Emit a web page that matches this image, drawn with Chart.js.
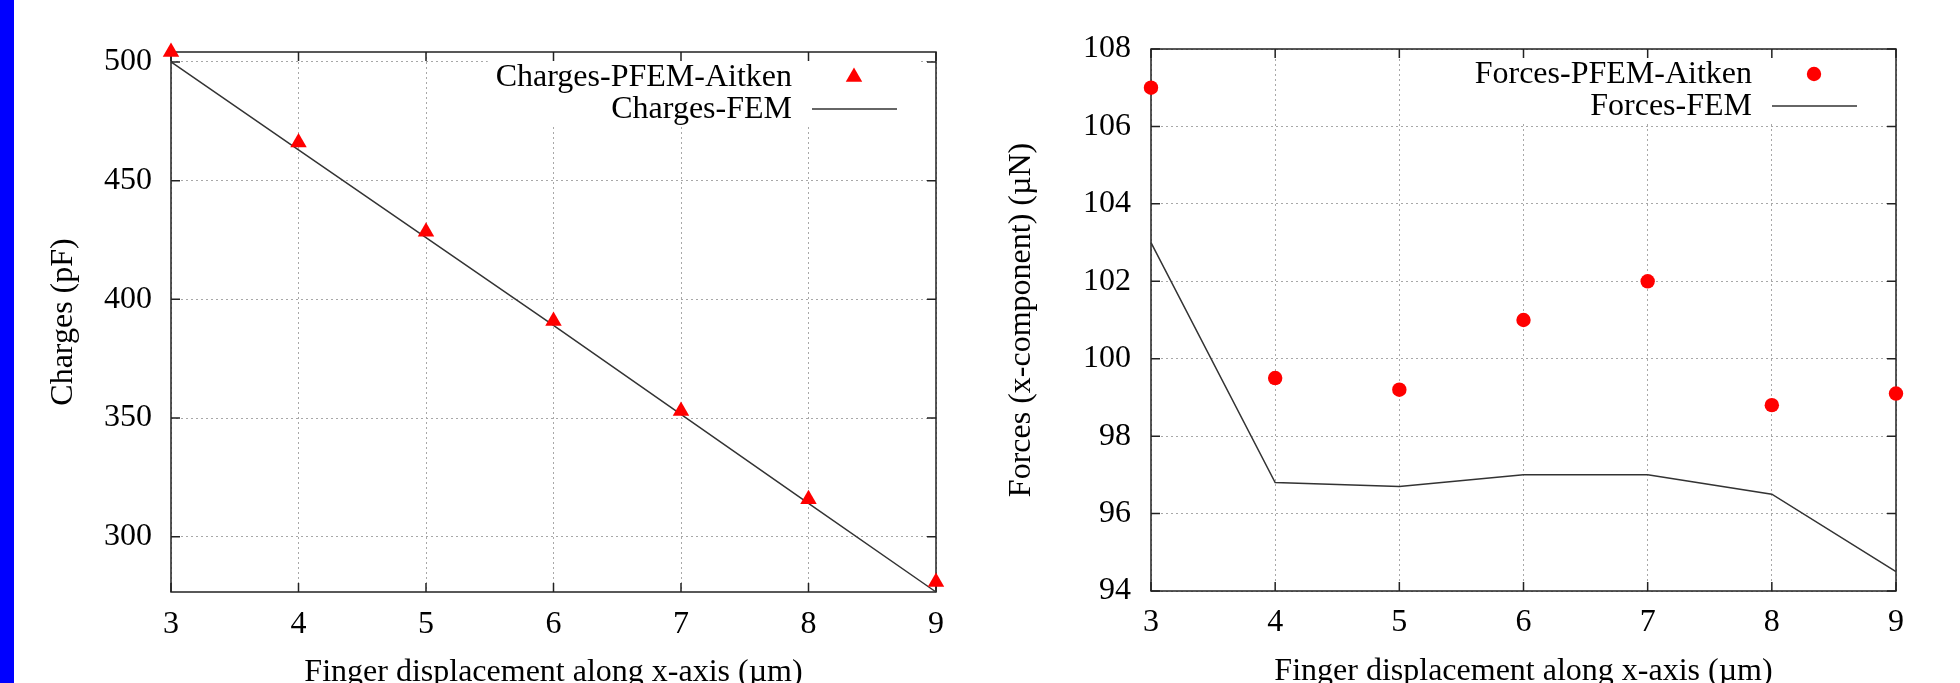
<!DOCTYPE html>
<html>
<head>
<meta charset="utf-8">
<script src="https://cdn.jsdelivr.net/npm/chart.js@4.4.0/dist/chart.umd.min.js"></script>
<style>
html, body { margin: 0; padding: 0; background: #fff; overflow: hidden; width: 1960px; height: 683px; }
#bar { position: absolute; left: 0; top: 0; width: 14px; height: 683px; background: #0000ff; }
#c1 { position: absolute; left: 14px; top: 0; }
#c2 { position: absolute; left: 980px; top: 0; }
</style>
</head>
<body>
<div id="bar"></div>
<canvas id="c1" width="966" height="700"></canvas>
<canvas id="c2" width="980" height="700"></canvas>
<script>
// values
const xValues = [3, 4, 5, 6, 7, 8, 9];
const chargesPfem = [504.2, 466.1, 428.5, 390.9, 353.0, 315.8, 280.9];
const chargesFem = [500.0, 463.0, 426.0, 389.0, 351.5, 314.0, 276.7];
const forcesPfem = [107.0, 99.5, 99.2, 101.0, 102.0, 98.8, 99.1];
const forcesFem = [103.0, 96.8, 96.7, 97.0, 97.0, 96.5, 94.5];

const xTicks = [3, 4, 5, 6, 7, 8, 9];
const chargesTicks = [300, 350, 400, 450, 500];
const forcesTicks = [94, 96, 98, 100, 102, 104, 106, 108];

const xTitle = 'Finger displacement along x-axis (\u00b5m)';
const FONT = '"Liberation Serif", "Times New Roman", serif';
const FSIZE = 32;

function pts(ys) {
    return xValues.map((x, i) => ({x: x, y: ys[i]}));
}

// gnuplot-like box, inward ticks and legend
const gnuFrame = {
    id: 'gnuFrame',
    beforeDatasetsDraw(chart) {
        const ctx = chart.ctx;
        const a = chart.chartArea;
        const x = chart.scales.x, y = chart.scales.y;
        ctx.save();
        ctx.font = FSIZE + 'px ' + FONT;
        let w = 0;
        chart.data.datasets.forEach(d => { w = Math.max(w, ctx.measureText(d.label).width); });
        const left = a.right - 144 - w - 8;
        ctx.fillStyle = '#fff';
        ctx.fillRect(left, a.top + 1, a.right - 17 - left, 72);

        ctx.strokeStyle = '#222';
        ctx.lineWidth = 1.5;
        ctx.strokeRect(a.left, a.top, a.right - a.left, a.bottom - a.top);
        ctx.beginPath();
        x.ticks.forEach(t => {
            const p = x.getPixelForValue(t.value);
            ctx.moveTo(p, a.bottom); ctx.lineTo(p, a.bottom - 9);
            ctx.moveTo(p, a.top); ctx.lineTo(p, a.top + 9);
        });
        y.ticks.forEach(t => {
            const p = y.getPixelForValue(t.value);
            ctx.moveTo(a.left, p); ctx.lineTo(a.left + 9, p);
            ctx.moveTo(a.right, p); ctx.lineTo(a.right - 9, p);
        });
        ctx.stroke();
        ctx.restore();
    },
    afterDatasetsDraw(chart) {
        const ctx = chart.ctx;
        const a = chart.chartArea;
        ctx.save();
        ctx.font = FSIZE + 'px ' + FONT;
        ctx.textAlign = 'right';
        ctx.textBaseline = 'middle';
        chart.data.datasets.forEach((d, i) => {
            const yy = a.top + 25 + i * 32;
            ctx.fillStyle = '#000';
            ctx.fillText(d.label, a.right - 144, yy + 1);
            if (d.showLine === false) {
                const cx = a.right - 82;
                ctx.fillStyle = d.backgroundColor;
                ctx.beginPath();
                if (d.pointStyle === 'triangle') {
                    const r = d.pointRadius;
                    ctx.moveTo(cx, yy - r);
                    ctx.lineTo(cx + r * 0.866, yy + r * 0.5);
                    ctx.lineTo(cx - r * 0.866, yy + r * 0.5);
                    ctx.closePath();
                } else {
                    ctx.arc(cx, yy, d.pointRadius, 0, Math.PI * 2);
                }
                ctx.fill();
            } else {
                ctx.strokeStyle = d.borderColor;
                ctx.lineWidth = d.borderWidth;
                ctx.beginPath();
                ctx.moveTo(a.right - 124, yy);
                ctx.lineTo(a.right - 39, yy);
                ctx.stroke();
            }
        });
        ctx.restore();
    }
};

function makeChart(id, cfg) {
    const font = {family: FONT, size: FSIZE};
    return new Chart(document.getElementById(id), {
        type: 'line',
        data: {
            datasets: [{
                label: cfg.labels[0],
                data: pts(cfg.pfem),
                showLine: false,
                pointStyle: cfg.pointStyle,
                pointRadius: cfg.pointRadius,
                pointHoverRadius: cfg.pointRadius,
                pointBorderWidth: 0,
                backgroundColor: '#ff0000',
                borderColor: '#ff0000',
                clip: false
            }, {
                label: cfg.labels[1],
                data: pts(cfg.fem),
                borderColor: '#333333',
                borderWidth: 1.5,
                pointRadius: 0,
                tension: 0,
                fill: false,
                clip: false
            }]
        },
        options: {
            responsive: false,
            animation: false,
            layout: {padding: cfg.padding},
            plugins: {legend: {display: false}, tooltip: {enabled: false}},
            scales: {
                x: {
                    type: 'linear',
                    min: 3,
                    max: 9,
                    afterBuildTicks: s => { s.ticks = xTicks.map(v => ({value: v})); },
                    afterFit: s => {
                        s.height = cfg.xHeight;
                        s.paddingLeft = 0; s.paddingRight = 0;
                    },
                    grid: {color: '#a8a8a8', lineWidth: 1, drawTicks: false},
                    border: {display: false, dash: [2, 3]},
                    ticks: {color: '#000', font: font, padding: cfg.xTickPad, maxRotation: 0},
                    title: {display: true, text: xTitle, color: '#000', font: font, padding: {top: 0, bottom: cfg.xTitlePad}}
                },
                y: {
                    min: cfg.yMin,
                    max: cfg.yMax,
                    afterBuildTicks: s => { s.ticks = cfg.yTicks.map(v => ({value: v})); },
                    afterFit: s => {
                        s.width = cfg.yWidth;
                        s.paddingTop = 0; s.paddingBottom = 0;
                    },
                    grid: {color: '#a8a8a8', lineWidth: 1, drawTicks: false},
                    border: {display: false, dash: [2, 3]},
                    ticks: {color: '#000', font: font, padding: cfg.yTickPad},
                    title: {display: true, text: cfg.yTitle, color: '#000', font: font, padding: 0}
                }
            }
        },
        plugins: [gnuFrame]
    });
}

makeChart('c1', {
    labels: ['Charges-PFEM-Aitken', 'Charges-FEM'],
    pfem: chargesPfem,
    fem: chargesFem,
    pointStyle: 'triangle',
    pointRadius: 9.5,
    yMin: 276.7,
    yMax: 504.2,
    yTicks: chargesTicks,
    yTitle: 'Charges (pF)',
    padding: {left: 30, right: 44, top: 52, bottom: 0},
    yWidth: 127,
    xHeight: 108,
    xTickPad: 13,
    yTickPad: 19,
    xTitlePad: 8
});

makeChart('c2', {
    labels: ['Forces-PFEM-Aitken', 'Forces-FEM'],
    pfem: forcesPfem,
    fem: forcesFem,
    pointStyle: 'circle',
    pointRadius: 7.2,
    yMin: 94,
    yMax: 108,
    yTicks: forcesTicks,
    yTitle: 'Forces (x-component) (\u00b5N)',
    padding: {left: 22, right: 64, top: 49, bottom: 0},
    yWidth: 149,
    xHeight: 109,
    xTickPad: 12,
    yTickPad: 20,
    xTitlePad: 9
});
</script>
</body>
</html>
